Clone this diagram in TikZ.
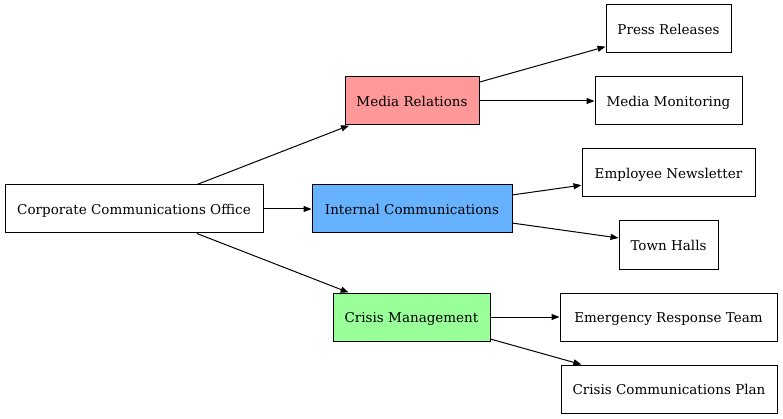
\documentclass[tikz,border=0pt]{standalone}
\usepackage{fontspec}
\setmainfont{DejaVu Serif}
\usetikzlibrary{arrows.meta}
\definecolor{mediared}{HTML}{FF9999}
\definecolor{internalblue}{HTML}{66B2FF}
\definecolor{crisisgreen}{HTML}{99FF99}
\begin{document}
\begin{tikzpicture}[x=1pt,y=-1pt,
  box/.style={draw=black, line width=1pt, inner sep=0pt, minimum height=48pt, text height=12pt, text depth=1pt, font=\fontsize{13.5}{15}\selectfont},
  conn/.style={line width=1pt, -{Triangle[length=8pt,width=6pt]}}]
\useasboundingbox (0,0) rectangle (783,419);
\node[box, minimum width=258pt] (cco) at (134,209) {Corporate Communications Office};
\node[box, fill=mediared, minimum width=134pt] (mr) at (412,101) {Media Relations};
\node[box, fill=internalblue, minimum width=200pt] (ic) at (412,209) {Internal Communications};
\node[box, fill=crisisgreen, minimum width=157pt] (cm) at (411.5,317) {Crisis Management};
\node[box, minimum width=125pt] (pr) at (668.5,29) {Press Releases};
\node[box, minimum width=147pt] (mm) at (668.5,101) {Media Monitoring};
\node[box, minimum width=173pt] (en) at (668.5,173) {Employee Newsletter};
\node[box, minimum width=99pt] (th) at (668.5,245) {Town Halls};
\node[box, minimum width=217pt] (ert) at (668.5,317) {Emergency Response Team};
\node[box, minimum width=216pt] (ccp) at (669,389) {Crisis Communications Plan};
\draw[conn] (cco) -- (mr);
\draw[conn] (cco) -- (ic);
\draw[conn] (cco) -- (cm);
\draw[conn] (mr) -- (pr);
\draw[conn] (mr) -- (mm);
\draw[conn] (ic) -- (en);
\draw[conn] (ic) -- (th);
\draw[conn] (cm) -- (ert);
\draw[conn] (cm) -- (ccp);
\end{tikzpicture}
\end{document}
